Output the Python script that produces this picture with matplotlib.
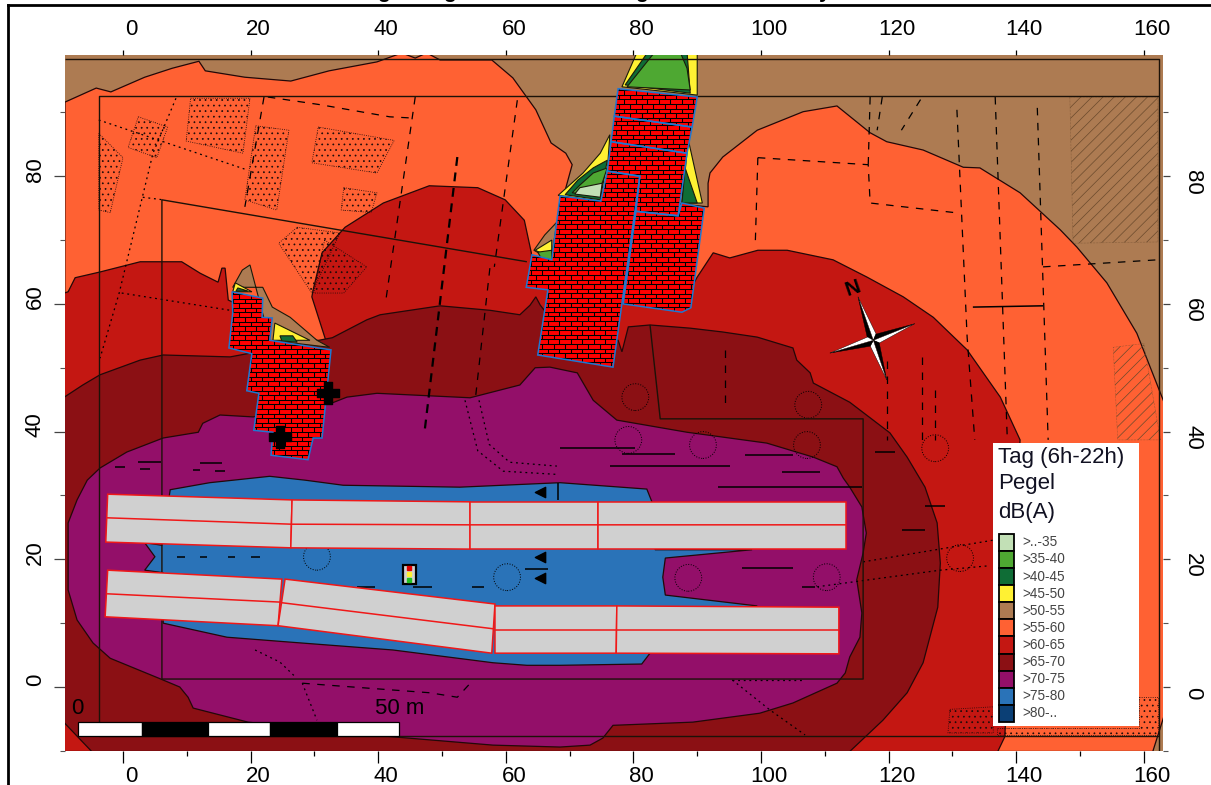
import numpy as np
import matplotlib
matplotlib.use("Agg")
import matplotlib.pyplot as plt
from matplotlib.patches import Polygon, Rectangle, Circle
from matplotlib.collections import LineCollection
from matplotlib.lines import Line2D
from matplotlib.transforms import ScaledTranslation

plt.rcParams['font.family'] = ['Liberation Sans', 'DejaVu Sans']
plt.rcParams['hatch.linewidth'] = 0.5

# noise level classes
level_labels = [">..-35", ">35-40", ">40-45", ">45-50", ">50-55", ">55-60",
                ">60-65", ">65-70", ">70-75", ">75-80", ">80-.."]
level_colors = ["#C2E0B6", "#4EA832", "#0F6D36", "#FFF133", "#AD7B52", "#FF6133",
                "#C41712", "#8B1014", "#930F69", "#2A73B8", "#0B3F75"]

# contour outlines in metres
zone_55 = [(-9.1, 91.6), (-4.2, 93.8), (-1.9, 93.2), (3.4, 95.5), (7.7, 96.9), (11.9, 98.0), (12.9, 96.5),
           (19.1, 95.5), (26.3, 94.9), (32.3, 96.5), (39.8, 97.9), (43.7, 99.3), (45.8, 98.5), (47.6, 99.3),
           (49.7, 98.2), (57.8, 98.2), (61.1, 95.4), (64.7, 90.4), (67.1, 85.2), (69.4, 83.6), (70.4, 81.8),
           (69.0, 76.7), (81.0, 76.3), (91.7, 75.2), (91.7, 78.9), (92.0, 80.5), (94.0, 83.0), (99.4, 87.2),
           (106.6, 90.1), (111.9, 91.0), (117.1, 86.8), (119.7, 85.4), (125.4, 84.1), (131.7, 81.4),
           (134.3, 81.3), (140.6, 77.4), (146.9, 71.6), (149.5, 68.9), (154.2, 63.3), (158.9, 55.4),
           (163.2, 44.5), (163.2, -4.4), (161.4, -10.1), (-9.2, -10.1)]
zone_60 = [(-9.2, 61.7), (-8.6, 61.9), (-7.5, 64.1), (-3.6, 65.0), (2.7, 66.6), (9.2, 66.6), (12.1, 64.8),
           (14.9, 63.4), (15.5, 65.6), (16.0, 65.6), (16.5, 60.6), (32.0, 53.6), (29.6, 61.1), (29.8, 62.2),
           (31.2, 68.0), (34.8, 72.0), (40.8, 75.8), (48.0, 78.5), (55.6, 78.2), (59.9, 76.3), (62.9, 73.1),
           (64.0, 68.0), (64.1, 65.3), (77.9, 60.6), (88.9, 62.2), (90.0, 64.2), (92.5, 68.0), (95.1, 67.2),
           (99.5, 68.4), (104.1, 68.4), (111.3, 66.9), (116.6, 64.2), (122.3, 61.1), (127.0, 57.9),
           (132.3, 52.8), (137.5, 45.4), (140.6, 38.7), (138.2, -7.8), (137.1, -10.1), (-9.2, -10.1)]
zone_65 = [(-9.2, 45.4), (-6.3, 47.3), (-3.6, 48.9), (2.7, 51.2), (6.3, 52.0), (16.8, 51.7), (32.8, 54.7),
           (38.2, 57.5), (40.3, 58.3), (49.7, 59.7), (57.5, 59.0), (62.2, 58.3), (63.8, 59.8), (64.7, 61.1),
           (65.4, 59.8), (68.5, 55.9), (77.6, 54.3), (78.2, 52.5), (79.2, 56.4), (82.6, 56.7), (88.9, 56.2),
           (94.0, 55.6), (99.4, 54.8), (105.0, 53.1), (105.6, 51.2), (107.7, 49.2), (108.2, 47.6),
           (113.9, 44.6), (120.2, 39.8), (122.9, 36.0), (125.7, 31.3), (127.6, 25.7), (128.1, 19.4),
           (127.7, 12.5), (125.4, 3.8), (122.9, -0.9), (119.1, -5.2), (113.9, -10.1), (-4.9, -10.1), (-9.2, -5.6)]
zone_70 = [(-8.6, 21.5), (-8.6, 25.7), (-7.2, 29.3), (-5.6, 32.4), (-3.6, 34.3), (0.6, 36.8), (6.3, 39.0),
           (11.8, 39.9), (12.5, 41.3), (15.2, 42.6), (20.4, 42.3), (32.8, 44.5), (35.1, 45.4), (39.8, 46.0),
           (54.4, 45.3), (62.2, 47.3), (64.6, 50.0), (66.9, 50.1), (71.2, 49.2), (73.7, 44.9), (77.4, 41.8),
           (88.4, 39.9), (100.9, 38.2), (108.2, 36.0), (111.9, 34.5), (112.9, 32.7), (113.9, 31.3),
           (115.8, 28.2), (116.5, 24.1), (116.0, 21.0), (115.0, 16.8), (115.8, 11.6), (115.5, 7.8),
           (113.9, 4.7), (113.2, 2.2), (111.9, 0.6), (105.0, -2.5), (99.8, -4.1), (89.3, -5.5), (76.8, -6.0),
           (75.2, -8.0), (73.2, -9.1), (68.5, -9.4), (58.0, -9.1), (42.3, -7.8), (19.6, -5.5), (11.0, -3.3),
           (10.2, -1.6), (8.9, 0.0), (5.8, 1.3), (-2.0, 4.5), (-4.7, 6.9), (-7.2, 10.5), (-8.6, 15.2)]
zone_75 = [(7.4, 30.9), (13.6, 32.0), (23.0, 33.0), (28.5, 32.4), (34.5, 31.6), (52.8, 31.3), (68.5, 32.0),
           (82.1, 31.0), (82.9, 29.0), (83.4, 21.5), (98.6, 21.5), (85.0, 20.2), (84.6, 17.2), (85.0, 14.4),
           (99.4, 12.7), (82.6, 5.3), (81.3, 3.6), (68.5, 3.4), (63.3, 3.4), (58.0, 3.8), (42.3, 5.8),
           (26.6, 7.0), (16.3, 7.8), (6.3, 10.0), (6.3, 17.9), (3.4, 18.3), (5.0, 20.4), (3.4, 22.6), (6.1, 22.2)]

# quiet pockets next to the buildings: (class index, outline)
pockets = [
    (3, [(80.6, 99.5), (78.2, 94.0), (90.0, 92.7), (90.0, 99.5)]),
    (2, [(82.3, 99.5), (78.7, 94.3), (88.9, 93.0), (88.4, 99.5)]),
    (1, [(83.4, 99.5), (87.3, 99.5), (88.4, 96.9), (88.9, 93.5), (79.0, 94.0)]),
    (3, [(76.3, 86.5), (74.8, 83.6), (72.1, 80.5), (68.2, 77.0), (74.9, 76.1), (75.9, 80.7)]),
    (2, [(75.9, 82.5), (73.7, 81.3), (71.3, 79.4), (69.3, 77.1), (74.8, 76.3)]),
    (1, [(75.9, 81.3), (73.7, 80.5), (71.6, 78.6), (70.4, 77.4), (74.8, 76.9), (75.1, 78.9)]),
    (0, [(71.6, 78.2), (75.1, 78.9), (74.8, 76.7), (70.8, 77.2)]),
    (3, [(88.6, 85.7), (90.8, 75.8), (87.6, 75.8)]),
    (2, [(88.1, 81.3), (90.0, 75.8), (87.6, 75.8)]),
    (4, [(68.0, 72.8), (66.1, 70.8), (64.4, 68.4), (67.1, 66.9)]),
    (3, [(64.6, 68.4), (67.2, 70.0), (67.2, 67.2)]),
    (1, [(65.0, 68.1), (67.2, 68.4), (67.2, 66.9), (65.7, 66.9)]),
    (4, [(19.9, 66.1), (18.7, 65.3), (17.2, 62.6), (21.9, 62.6), (23.4, 59.5), (26.2, 57.9), (30.4, 54.3),
         (32.4, 53.2), (23.0, 54.3)]),
    (3, [(17.6, 63.3), (20.2, 61.9), (17.2, 61.9)]),
    (2, [(18.0, 62.5), (19.6, 62.0), (17.7, 62.0)]),
    (3, [(23.8, 57.0), (29.3, 54.3), (23.5, 54.3)]),
    (2, [(24.6, 55.0), (26.6, 55.0), (27.3, 54.0), (24.9, 54.2)]),
]

# buildings
buildings = [
    [(77.6, 93.7), (90.0, 92.4), (89.2, 87.7), (77.0, 89.4)],
    [(77.0, 89.4), (89.2, 87.7), (88.4, 83.6), (76.5, 85.4)],
    [(76.5, 85.4), (88.4, 83.6), (87.0, 73.8), (80.4, 74.5), (81.0, 80.0), (75.9, 80.8)],
    [(75.9, 80.8), (81.0, 80.0), (76.8, 50.1), (65.0, 52.0), (66.6, 62.2), (63.2, 62.6), (64.1, 67.7),
     (67.2, 66.9), (68.5, 76.9), (74.9, 76.1)],
    [(80.4, 74.5), (87.0, 73.8), (87.6, 75.8), (91.1, 75.0), (89.0, 59.4), (87.6, 58.7), (78.4, 60.0)],
    [(17.1, 61.9), (21.9, 60.9), (21.8, 57.9), (23.4, 57.8), (23.0, 54.3), (32.6, 52.8), (31.2, 39.0),
     (29.8, 39.0), (29.0, 35.6), (23.2, 36.3), (23.5, 39.9), (20.5, 40.2), (21.3, 46.0), (19.4, 46.4),
     (20.2, 52.2), (16.6, 53.1), (17.2, 58.6)],
]

# road sections
road_sections = [
    [(-2.4, 30.2), (26.5, 29.3), (26.3, 21.8), (-2.7, 22.7)],
    [(26.5, 29.3), (54.4, 29.0), (54.4, 21.6), (26.3, 21.8)],
    [(54.4, 29.0), (74.5, 29.0), (74.5, 21.6), (54.4, 21.6)],
    [(74.5, 29.0), (113.3, 29.0), (113.3, 21.6), (74.5, 21.6)],
    [(-2.4, 18.3), (24.9, 16.9), (24.3, 9.6), (-2.8, 11.0)],
    [(25.4, 16.9), (58.3, 13.0), (57.8, 5.3), (24.3, 9.6)],
    [(58.3, 12.7), (77.4, 12.7), (77.3, 5.3), (58.3, 5.3)],
    [(77.4, 12.7), (112.2, 12.5), (112.2, 5.2), (77.3, 5.3)],
]
road_midlines = [
    [(-2.5, 26.5), (26.4, 25.5), (54.4, 25.4), (74.5, 25.4), (113.3, 25.4)],
    [(-2.5, 14.6), (24.6, 13.3), (24.9, 13.2), (58.2, 9.1)],
    [(58.3, 8.9), (112.2, 8.9)],
]

# site outline lines
frame_lines = [
    [(-9.1, 98.35), (162.4, 98.35), (162.4, -10.0)],
    [(-3.8, -7.7), (162.4, -7.7)],
    [(162.4, 92.5), (-3.8, 92.5), (-3.8, -7.7)],
    [(63.3, 66.6), (6.1, 76.3), (6.1, 1.25), (116.0, 1.25), (116.0, 42.0), (84.2, 42.0), (82.6, 56.7)],
]
solid_lines = [
    [(93.3, 31.3), (115.8, 31.3)],
    [(68.5, 37.4), (80.3, 37.4)],
    [(133.2, 59.5), (144.2, 59.7)],
    [(78.2, 36.5), (86.5, 36.5)],
    [(76.3, 34.6), (95.1, 34.6)],
    [(103.3, 33.7), (109.2, 33.7)],
    [(97.5, 36.3), (105.0, 36.3)],
    [(97.0, 18.6), (105.0, 18.6)],
    [(106.4, 15.7), (108.5, 15.7)],
    [(2.4, 35.2), (5.9, 35.2)],
    [(12.1, 35.1), (15.5, 35.1)],
    [(-1.3, 34.5), (0.3, 34.5)],
    [(2.7, 34.1), (4.2, 34.1)],
    [(10.9, 34.0), (12.1, 34.0)],
    [(14.4, 33.8), (16.0, 33.8)],
    [(8.5, 20.4), (9.7, 20.4)],
    [(12.1, 20.4), (13.2, 20.4)],
    [(16.5, 20.4), (17.6, 20.4)],
    [(20.0, 20.4), (21.5, 20.4)],
    [(36.7, 15.7), (39.5, 15.7)],
    [(45.5, 15.7), (48.4, 15.7)],
    [(54.7, 15.7), (56.6, 15.7)],
    [(63.0, 18.5), (66.6, 18.5)],
    [(68.2, 32.0), (68.2, 29.3)],
    [(117.9, 36.8), (121.0, 36.8)],
    [(125.7, 28.3), (128.8, 28.3)],
    [(122.1, 24.6), (125.7, 24.6)],
]
dashed_lines = [
    [(99.5, 82.9), (116.8, 81.8), (117.1, 75.8), (131.2, 74.2)],
    [(117.1, 92.4), (116.8, 81.8)],
    [(119.0, 92.4), (118.2, 87.2)],
    [(125.0, 92.0), (122.0, 87.2)],
    [(130.7, 90.4), (132.3, 54.8), (133.5, 38.7)],
    [(136.7, 92.4), (138.6, 38.7)],
    [(143.3, 90.7), (145.0, 38.7)],
    [(144.2, 65.8), (162.1, 66.9)],
    [(99.5, 82.9), (99.1, 69.5)],
    [(94.4, 52.8), (94.4, 44.5)],
    [(119.7, 51.0), (119.7, 38.7)],
    [(125.2, 51.7), (125.2, 38.7)],
    [(127.3, 46.5), (127.3, 38.7)],
    [(45.8, 92.4), (41.2, 60.6)],
    [(61.8, 91.9), (58.2, 65.8)],
    [(22.1, 92.4), (19.1, 75.2)],
    [(22.7, 92.4), (30.9, 91.2), (41.8, 89.3), (45.5, 89.1)],
    [(57.5, 65.6), (55.2, 44.9)],
    [(28.1, 0.6), (32.0, 0.3), (48.1, -0.9), (52.4, -1.6), (54.9, 1.1)],
]
thick_dashed_lines = [
    [(52.4, 83.0), (47.3, 40.3)],
]
dotted_lines = [
    [(8.3, 92.2), (4.7, 83.6), (-0.6, 61.7), (-3.6, 51.5)],
    [(-3.8, 88.8), (19.4, 81.0)],
    [(3.1, 76.7), (6.3, 76.3)],
    [(-0.2, 61.7), (16.8, 59.0)],
    [(116.0, 19.6), (136.4, 23.0)],
    [(108.8, 15.7), (128.1, 18.3), (135.9, 19.0)],
    [(20.7, 5.8), (24.6, 3.9), (27.0, 1.6)],
    [(28.1, 0.6), (30.4, -5.2)],
    [(95.5, 1.1), (106.9, 1.1)],
    [(95.5, 1.1), (101.4, -3.6), (106.9, -7.5)],
    [(53.6, 44.9), (55.6, 37.0), (59.6, 33.8), (68.0, 33.3)],
    [(55.8, 44.9), (57.4, 38.0), (60.6, 35.2), (68.0, 34.6)],
]
tree_centres = [(80.3, 45.4), (107.4, 44.2), (79.2, 38.7), (90.9, 37.9), (107.2, 37.9), (88.6, 17.1),
                (110.3, 17.2), (127.3, 37.4), (131.2, 20.2), (60.2, 17.2), (30.4, 20.4)]
arrow_marks = [(65.4, 30.5), (65.4, 20.4), (65.4, 17.1)]
source_marks = [(32.1, 46.0), (24.6, 39.2)]

# background plan texture
stipple_areas = [
    [(10.6, 92.2), (19.9, 92.2), (18.8, 83.6), (9.9, 85.5)],
    [(20.8, 87.9), (26.0, 87.2), (24.1, 74.7), (19.1, 76.3)],
    [(30.6, 87.7), (42.5, 85.6), (39.8, 80.5), (29.6, 82.1)],
    [(34.6, 78.2), (39.8, 77.4), (38.9, 74.3), (34.2, 74.7)],
    [(27.3, 72.0), (34.0, 71.1), (29.6, 61.7), (24.4, 69.5)],
    [(31.6, 70.0), (38.2, 65.8), (34.6, 61.7), (29.9, 61.7)],
    [(-3.8, 86.7), (0.0, 82.9), (-2.0, 74.3), (-3.8, 74.7)],
    [(2.4, 89.3), (7.0, 87.7), (5.3, 82.9), (0.8, 84.5)],
    [(129.6, -3.5), (136.4, -3.1), (136.4, -7.2), (129.3, -7.2)],
    [(159.2, -1.5), (162.2, -1.5), (162.2, -7.5), (137.0, -7.5), (137.0, -6.4), (159.2, -6.4)],
]
hatch_areas = [
    [(148.4, 92.4), (162.2, 92.4), (162.2, 69.7), (148.9, 69.5)],
    [(155.2, 53.2), (160.0, 53.8), (162.6, 38.7), (155.9, 38.7)],
]

# scale bar, legend box and compass
scale_edges = [-7.05, 3.0, 13.3, 23.0, 33.5, 43.3]
legend_title = ["Tag (6h-22h)", "Pegel", "dB(A)"]
compass_centre = (117.6, 54.3)
compass_tips = [(115.2, 61.1), (124.1, 56.9), (119.7, 48.1), (110.8, 52.3)]
title_glyphs = [("g", 384), ("g", 449), ("g", 641), ("y", 825)]

W, H = 1211, 785
fig = plt.figure(figsize=(W / 100, H / 100), dpi=100)
ax = fig.add_axes([65 / W, 1 - 751 / H, (1163 - 65) / W, (751 - 55) / H])
ax.set_xlim(-9.09, 163.0)
ax.set_ylim(-10.02, 98.98)
ax.set_facecolor(level_colors[4])
for s in ax.spines.values():
    s.set_visible(False)


def draw_lines(segs, lw=0.8, ls='-', color='black', z=7):
    lc = LineCollection(segs, colors=color, linewidths=lw, linestyles=ls, zorder=z)
    ax.add_collection(lc)


for z, (pts, idx) in enumerate([(zone_55, 5), (zone_60, 6), (zone_65, 7), (zone_70, 8), (zone_75, 9)]):
    ax.add_patch(Polygon(pts, closed=True, fc=level_colors[idx], ec='#220808', lw=0.9, zorder=2 + z * 0.1))

# plan details on top of the contours
for pts in stipple_areas:
    ax.add_patch(Polygon(pts, closed=True, fill=False, ec='#1a0a0a', lw=0.6, ls=':', hatch='...', zorder=3))
for pts in hatch_areas:
    ax.add_patch(Polygon(pts, closed=True, fill=False, ec='#6b4a2c', lw=0.4, ls=':', hatch='///', zorder=3))
for c in tree_centres:
    ax.add_patch(Circle(c, 2.1, fill=False, ec='black', lw=0.7, ls=':', zorder=3))
draw_lines(dashed_lines, lw=0.9, ls=(0, (6, 6)))
draw_lines(thick_dashed_lines, lw=1.6, ls=(0, (4, 3)))
draw_lines(dotted_lines, lw=0.9, ls=(0, (1.5, 3)))
draw_lines(solid_lines, lw=1.1)
draw_lines(frame_lines, lw=1.0, color='#1c1208')
ax.scatter(*zip(*arrow_marks), marker='<', s=55, color='black', zorder=7)

for idx, pts in pockets:
    ax.add_patch(Polygon(pts, closed=True, fc=level_colors[idx], ec='#1a1a0a', lw=0.8, zorder=6))

# road sections
for pts in road_sections:
    ax.add_patch(Polygon(pts, closed=True, fc='#D0D0D0', ec='#F01818', lw=1.1, zorder=8))
draw_lines(road_midlines, lw=1.1, color='#F01818', z=8.1)

# buildings with brick texture
for pts in buildings:
    p = Polygon(pts, closed=True, fc='#FF0000', ec='none', zorder=8)
    ax.add_patch(p)
    xy = np.array(pts)
    courses = np.arange(xy[:, 1].min() - 0.7, xy[:, 1].max() + 0.7, 0.72)
    segs = [[(xy[:, 0].min() - 1, c), (xy[:, 0].max() + 1, c)] for c in courses]
    for i, c in enumerate(courses[:-1]):
        for bx in np.arange(xy[:, 0].min() - 2 + (i % 2) * 0.9, xy[:, 0].max() + 1, 1.8):
            segs.append([(bx, c), (bx, c + 0.72)])
    lc = LineCollection(segs, colors='black', linewidths=0.75, zorder=8.1)
    ax.add_collection(lc)
    lc.set_clip_path(p)
    ax.add_patch(Polygon(pts, closed=True, fill=False, ec='#1E78D2', lw=1.1, zorder=8.2))

# source marks next to the small building
ax.scatter(*zip(*source_marks), marker='P', s=230, color='black', zorder=8.5)

# measuring point in the middle
ax.add_patch(Rectangle((43.9, 16.1), 2.0, 3.0, fc='#D0D0D0', ec='black', lw=1.6, zorder=8))
for col, yy in zip(['#E00000', '#FFF133', '#22C022'], [18.6, 17.7, 16.8]):
    ax.plot([44.9], [yy], 's', ms=3, color=col, zorder=8.3)

# compass
cx, cy = compass_centre
for i, tip in enumerate(compass_tips):
    d = np.array(tip) - np.array(compass_centre)
    n = np.array([-d[1], d[0]]) / np.hypot(*d)
    ax.add_patch(Polygon([(cx, cy), tip, (cx + n[0] * 0.75 + d[0] * 0.1, cy + n[1] * 0.75 + d[1] * 0.1)],
                         closed=True, fc='black', ec='black', lw=0.3, zorder=9))
    ax.add_patch(Polygon([(cx, cy), tip, (cx - n[0] * 0.75 + d[0] * 0.1, cy - n[1] * 0.75 + d[1] * 0.1)],
                         closed=True, fc='white', ec='black', lw=0.3, zorder=9))
ax.text(114.4, 62.4, "N", fontsize=15, fontweight='bold', rotation=19, ha='center', va='center', zorder=9)

# scale bar
for i in range(len(scale_edges) - 1):
    ax.add_patch(Rectangle((scale_edges[i], -7.7), scale_edges[i + 1] - scale_edges[i], 2.2,
                           fc='white' if i % 2 == 0 else 'black', ec='black', lw=0.9, zorder=9))
ax.text(-7.2, -3.3, "0", fontsize=16, ha='center', va='center', zorder=9)
ax.text(43.4, -3.3, "50 m", fontsize=16, ha='center', va='center', zorder=9)

# legend
ax.add_patch(Rectangle((136.4, -6.1), 22.8, 44.3, fc='white', ec='none', zorder=10))
for txt, yy in zip(legend_title, [36.0, 31.8, 27.4]):
    ax.text(137.1, yy, txt, fontsize=16, ha='left', va='center', color='#111122', zorder=11)
for i, (lab, col) in enumerate(zip(level_labels, level_colors)):
    yy = 24.0 - i * 2.68
    ax.add_patch(Rectangle((137.3, yy - 2.68), 2.3, 2.68, fc=col, ec='black', lw=1.3, zorder=11))
    ax.text(140.9, yy - 1.34, lab, fontsize=9.8, ha='left', va='center', color='#444444', zorder=11)

# axes ticks
ax.set_xticks(np.arange(0, 161, 20))
ax.set_xticks(np.arange(10, 160, 20), minor=True)
ax.set_yticks(np.arange(0, 81, 20))
ax.set_yticks(np.arange(-10, 91, 20), minor=True)
ax.tick_params(axis='x', which='major', bottom=True, top=True, labelbottom=True, labeltop=True,
               length=8.6, width=0.9, labelsize=16, pad=2)
ax.tick_params(axis='x', which='minor', bottom=True, top=False, length=3.6, width=0.9)
ax.tick_params(axis='y', which='major', left=True, right=True, labelleft=True, labelright=True,
               length=7.9, width=0.9, labelsize=16, pad=6, color='#444444')
ax.tick_params(axis='y', which='minor', left=True, right=True, length=3.6, width=0.8, color='#555555')
for t in ax.xaxis.get_major_ticks():
    t.tick2line.set_markersize(3.6)
for t in ax.yaxis.get_major_ticks():
    t.tick2line.set_markersize(5)

shift_x = ScaledTranslation(8 / 100, 0, fig.dpi_scale_trans)
for t in ax.xaxis.get_major_ticks():
    t.label1.set_transform(t.label1.get_transform() + shift_x)
    t.label2.set_transform(t.label2.get_transform() + shift_x)
for t in ax.yaxis.get_major_ticks():
    t.label1.set_rotation(90)
    t.label1.set_va('center')
    t.label1.set_transform(t.label1.get_transform() + ScaledTranslation(0, 7 / 100, fig.dpi_scale_trans))
    t.label2.set_rotation(270)
    t.label2.set_va('center')
    t.label2.set_transform(t.label2.get_transform() + ScaledTranslation(0, -6 / 100, fig.dpi_scale_trans))

# page border and the cut off heading above it
fig.add_artist(Line2D([8 / W, 8 / W], [0, 1 - 5 / H], color='black', lw=2.0))
fig.add_artist(Line2D([8 / W, 1], [1 - 5 / H, 1 - 5 / H], color='black', lw=2.0))
for ch, px in title_glyphs:
    fig.text(px / W, 1 + 2.0 / H, ch, fontsize=15, fontweight='bold', ha='center', va='baseline')

fig.savefig("out.png", dpi=100)
